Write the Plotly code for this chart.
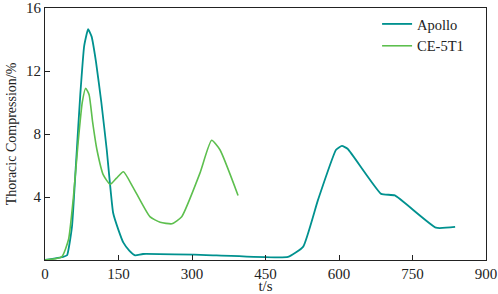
import plotly.graph_objects as go

apollo_t = [0, 37, 45, 55, 63, 72, 80, 88, 95, 104, 115, 126, 139, 150, 160, 172, 184, 200, 350, 496, 527, 557, 594, 606, 618, 686, 714, 798, 837]
apollo_y = [0, 0.2, 0.3, 2.1, 6.0, 10.5, 13.6, 14.65, 14.2, 12.6, 10.0, 7.0, 3.0, 1.9, 1.1, 0.6, 0.3, 0.38, 0.3, 0.2, 0.85, 3.8, 7.0, 7.24, 7.05, 4.2, 4.1, 2.05, 2.1]

ce_t = [0, 34, 48, 58, 68, 76, 83, 90, 97, 106, 119, 133, 146, 160, 180, 214, 235, 259, 279, 316, 340, 357, 394]
ce_y = [0, 0.2, 1.3, 4.0, 7.6, 10.0, 10.9, 10.5, 8.8, 7.0, 5.4, 4.8, 5.2, 5.6, 4.6, 2.75, 2.4, 2.3, 2.75, 5.5, 7.6, 7.0, 4.1]

x_ticks = [0, 150, 300, 450, 600, 750, 900]
y_ticks = [4, 8, 12, 16]

serif = "Liberation Serif"
fig = go.Figure()
fig.add_trace(go.Scatter(x=apollo_t, y=apollo_y, mode="lines", name="Apollo",
                         line=dict(color="#00918f", width=1.8, shape="spline", smoothing=0.4)))
fig.add_trace(go.Scatter(x=ce_t, y=ce_y, mode="lines", name="CE-5T1",
                         line=dict(color="#5dbf4e", width=1.6, shape="spline", smoothing=0.5)))

font = dict(family=serif, size=15, color="#222")
fig.update_layout(
    width=498, height=294,
    margin=dict(l=45, r=12, t=8, b=34, autoexpand=False),
    paper_bgcolor="white", plot_bgcolor="white",
    font=font,
    showlegend=True,
    legend=dict(x=0.753, y=1.0, xanchor="left", yanchor="top", bgcolor="rgba(0,0,0,0)",
                font=dict(family=serif, size=14.5, color="#222"),
                tracegroupgap=0, itemwidth=30),
)
fig.update_xaxes(range=[0, 900], tickvals=x_ticks, ticks="inside", ticklen=5, tickcolor="#222",
                 showline=True, linecolor="#222", linewidth=1, mirror=True, showgrid=False, zeroline=False,
                 automargin=False, tickfont=font,
                 title=dict(text="t/s", standoff=0, font=font))
fig.update_yaxes(range=[0, 16], tickvals=y_ticks, ticks="inside", ticklen=5, tickcolor="#222",
                 showline=True, linecolor="#222", linewidth=1, mirror=True, showgrid=False, zeroline=False,
                 automargin=False, tickfont=font,
                 title=dict(text="Thoracic Compression/%", standoff=6,
                            font=dict(family=serif, size=14, color="#222")))

fig.write_html("out.html", config={"responsive": False, "displayModeBar": False},
               post_script="document.body.style.margin='0px';document.body.style.padding='0px';document.body.style.overflow='hidden';")
